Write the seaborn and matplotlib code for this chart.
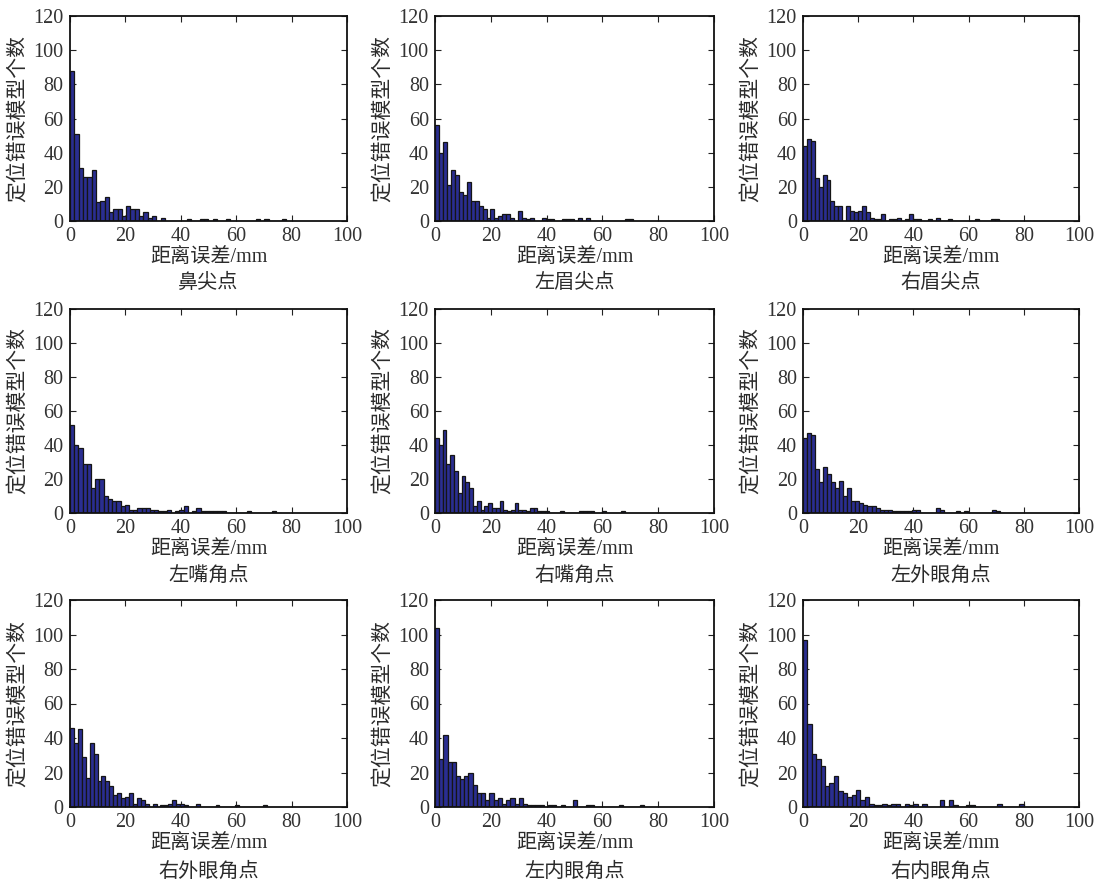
import numpy as np
import pandas as pd
import seaborn as sns
import matplotlib
matplotlib.use("Agg")
import matplotlib.pyplot as plt

titles = ["鼻尖点", "左眉尖点", "右眉尖点",
          "左嘴角点", "右嘴角点", "左外眼角点",
          "右外眼角点", "左内眼角点", "右内眼角点"]
xlabel_text = "距离误差/mm"
ylabel_text = "定位错误模型个数"
xticks = [0, 20, 40, 60, 80, 100]
yticks = [0, 20, 40, 60, 80, 100, 120]

# bin width (mm) of each histogram (MATLAB hist with 50 bins)
bin_widths = [1.56, 1.42, 1.42, 1.52, 1.36, 1.46, 1.42, 1.5, 1.6]

counts_nose = [88,51,31,26,26,30,11,12,14,5,7,7,3,9,7,7,3,5,2,3,
               0,2,0,0,0,0,0,1,0,0, 1,1,0,1,0,0,1,0,0,0,
               0,0,0,1,0,1,0,0,0,1]
counts_lbrow = [56,40,46,21,30,27,17,15,23,12,12,9,7,2,7,2,3,4,4,2,
                0,6,2,1,2,0,0,2,1,1, 0,0,1,1,1,0,2,0,2,0,
                0,0,0,0,0,0,0,0,1,1]
counts_rbrow = [44,48,47,25,20,27,24,12,9,9,0,9,6,5,6,9,5,2,1,1,
                4,0,1,1,2,0,1,4,1,1, 0,0,1,0,2,0,0,1,0,0,
                0,0,0,0,1,0,0,0,1,1]
counts_lmouth = [52,40,38,29,29,15,20,20,10,8,7,7,4,5,2,2,3,3,3,2,
                 2,1,1,2,0,1,2,4,0,1, 3,1,1,1,1,1,1,0,0,0,
                 0,0,1,0,0,0,0,0,1,0]
counts_rmouth = [44,40,49,29,34,25,12,22,18,15,4,7,2,4,6,3,3,7,2,1,
                 2,6,2,2,1,3,3,1,1,1, 0,0,0,1,0,0,0,0,1,1,
                 1,1,0,0,1,0,0,0,0,1]
counts_louter = [44,47,46,26,18,27,23,18,15,19,10,15,7,7,6,5,4,4,3,2,
                 2,2,1,1,1,1,1,2,2,0, 0,0,0,3,2,0,0,0,1,0,
                 1,0,0,0,0,0,0,2,1,0]
counts_router = [46,37,45,29,17,37,31,15,18,15,12,7,8,5,6,8,2,5,4,2,
                 0,2,0,1,1,2,4,2,2,1, 0,0,2,0,0,0,0,1,0,0,
                 0,0,1,0,0,0,0,0,0,1]
counts_linner = [104,28,42,26,26,18,16,18,20,13,8,8,4,8,4,5,2,4,5,2,
                 5,2,1,1,1,1,0,1,1,0, 1,0,0,4,0,0,1,1,0,0,
                 0,0,0,0,1,0,0,0,0,1]
counts_rinner = [97,48,31,28,24,12,14,18,9,8,6,7,10,4,6,2,1,1,2,1,
                 2,2,0,2,1,2,0,2,0,0, 0,4,0,4,1,0,0,1,1,0,
                 0,0,0,0,2,0,0,0,0,2]

all_counts = [counts_nose, counts_lbrow, counts_rbrow,
              counts_lmouth, counts_rmouth, counts_louter,
              counts_router, counts_linner, counts_rinner]

sns.set_style("ticks")
plt.rcParams["font.family"] = ["Liberation Serif", "Noto Sans CJK SC", "DejaVu Sans"]

W, H = 1109, 881
fig = plt.figure(figsize=(W / 100, H / 100), dpi=100)

col_lr = [(70, 347), (435, 714), (803, 1079)]
row_tb = [(16, 221), (309, 513), (600, 807)]
title_y = [283, 576, 872]

bar_face = "#2a2e91"
bar_edge = "#151515"
text_col = "#2b2b2b"

for i in range(9):
    r, c = divmod(i, 3)
    l, rr = col_lr[c]
    t, b = row_tb[r]
    ax = fig.add_axes([l / W, 1 - b / H, (rr - l) / W, (b - t) / H])
    cnt = [float(v) for v in all_counts[i]]
    w = bin_widths[i]
    edges = [k * w for k in range(len(cnt) + 1)]
    centers = [(k + 0.5) * w for k in range(len(cnt))]
    df = pd.DataFrame({"x": centers, "n": cnt})
    sns.histplot(data=df, x="x", weights="n", bins=edges, ax=ax,
                 color=bar_face, edgecolor=bar_edge, linewidth=0.9, alpha=1.0)
    ax.set_xlim(0, 100)
    ax.set_ylim(0, 120)
    ax.set_xticks(xticks)
    ax.set_yticks(yticks)
    ax.tick_params(direction="in", length=4, width=0.8, top=True, right=True,
                   labelsize=14.5, pad=4.5, colors="#222222", labelcolor="#333333")
    for sp in ax.spines.values():
        sp.set_visible(True)
        sp.set_linewidth(1.3)
        sp.set_color("#111111")
    ax.set_xlabel(xlabel_text, fontsize=14.5, labelpad=1.5, color=text_col)
    ax.set_ylabel(ylabel_text, fontsize=15, labelpad=3, color=text_col)
    fig.text((l + rr) / 2 / W, 1 - title_y[r] / H, titles[i],
             ha="center", va="center", fontsize=14.5, color=text_col)

fig.savefig("out.png", dpi=100)
